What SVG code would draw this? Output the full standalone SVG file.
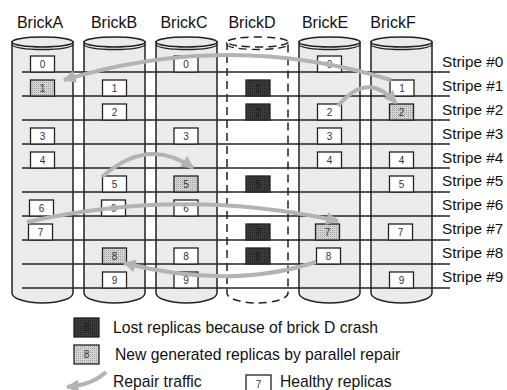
<svg xmlns="http://www.w3.org/2000/svg" width="507" height="390" viewBox="0 0 507 390">
<style>
text{font-family:"Liberation Sans",Arial,sans-serif}
.lbl{font-size:16px;fill:#111}
.sl{font-size:15.3px;fill:#111}
.cyl{fill:#ebebeb;stroke:#222;stroke-width:1.5}
.cyld{fill:#fff;stroke:#222;stroke-width:1.5;stroke-dasharray:8 5}
.rim{fill:none;stroke:#222;stroke-width:1.3}
.rimd{fill:none;stroke:#222;stroke-width:1.3;stroke-dasharray:8 5}
.stripe{stroke:#222;stroke-width:1.5}
.bx{fill:#fff;stroke:#222;stroke-width:1.3}
.nw{fill:url(#pn);stroke:#222;stroke-width:1.3}
.lo{fill:url(#pl);stroke:#222;stroke-width:1.3}
.n{font-size:10px;fill:#333;text-anchor:middle}
.nd{font-size:10px;fill:#1a1a1a;text-anchor:middle}
.arr{fill:none;stroke:#b3b3b3;stroke-width:4;marker-end:url(#ah)}
.leg{font-size:15.7px;fill:#111}
</style>
<defs>
<pattern id="pn" width="2" height="2" patternUnits="userSpaceOnUse"><rect width="2" height="2" fill="#d4d4d4"/><rect width="1" height="1" fill="#a2a2a2"/></pattern>
<pattern id="pl" width="2" height="2" patternUnits="userSpaceOnUse"><rect width="2" height="2" fill="#3c3c3c"/><rect width="1" height="1" fill="#222"/></pattern>
<marker id="ah" viewBox="0 0 10 10" refX="9" refY="5" markerWidth="3.6" markerHeight="3.2" orient="auto" markerUnits="strokeWidth"><path d="M0,0 L10,5 L0,10 Z" fill="#b3b3b3"/></marker>
</defs>
<rect width="507" height="390" fill="#fff"/>

<g id="brickA">
<path class="cyl" d="M12 42 V293 A30.5 10 0 0 0 73 293 V42 Z"/>
<ellipse class="cyl" cx="42.5" cy="42" rx="30.5" ry="5"/>
<path class="rim" d="M12 44.5 A30.5 5 0 0 0 73 44.5"/>
<text class="lbl" x="40" y="28" text-anchor="middle">BrickA</text>
</g>
<g id="brickB">
<path class="cyl" d="M84 42 V293 A30.5 10 0 0 0 145 293 V42 Z"/>
<ellipse class="cyl" cx="114.5" cy="42" rx="30.5" ry="5"/>
<path class="rim" d="M84 44.5 A30.5 5 0 0 0 145 44.5"/>
<text class="lbl" x="114" y="28" text-anchor="middle">BrickB</text>
</g>
<g id="brickC">
<path class="cyl" d="M156 42 V293 A30.5 10 0 0 0 217 293 V42 Z"/>
<ellipse class="cyl" cx="186.5" cy="42" rx="30.5" ry="5"/>
<path class="rim" d="M156 44.5 A30.5 5 0 0 0 217 44.5"/>
<text class="lbl" x="184" y="28" text-anchor="middle">BrickC</text>
</g>
<g id="brickD">
<path class="cyld" d="M227 42 V293 A30.5 10 0 0 0 288 293 V42"/>
<ellipse class="cyld" cx="257.5" cy="42" rx="30.5" ry="5"/>
<path class="rimd" d="M227 44.5 A30.5 5 0 0 0 288 44.5"/>
<text class="lbl" x="252" y="28" text-anchor="middle">BrickD</text>
</g>
<g id="brickE">
<path class="cyl" d="M299 42 V293 A30.5 10 0 0 0 360 293 V42 Z"/>
<ellipse class="cyl" cx="329.5" cy="42" rx="30.5" ry="5"/>
<path class="rim" d="M299 44.5 A30.5 5 0 0 0 360 44.5"/>
<text class="lbl" x="325" y="28" text-anchor="middle">BrickE</text>
</g>
<g id="brickF">
<path class="cyl" d="M371 42 V293 A30.5 10 0 0 0 432 293 V42 Z"/>
<ellipse class="cyl" cx="401.5" cy="42" rx="30.5" ry="5"/>
<path class="rim" d="M371 44.5 A30.5 5 0 0 0 432 44.5"/>
<text class="lbl" x="393" y="28" text-anchor="middle">BrickF</text>
</g>

<g id="stripes">
<line class="stripe" x1="22" y1="72" x2="450" y2="72"/>
<line class="stripe" x1="22" y1="96" x2="450" y2="96"/>
<line class="stripe" x1="22" y1="120" x2="450" y2="120"/>
<line class="stripe" x1="22" y1="144" x2="450" y2="144"/>
<line class="stripe" x1="22" y1="168" x2="450" y2="168"/>
<line class="stripe" x1="22" y1="192" x2="450" y2="192"/>
<line class="stripe" x1="22" y1="216" x2="450" y2="216"/>
<line class="stripe" x1="22" y1="240" x2="450" y2="240"/>
<line class="stripe" x1="22" y1="264" x2="450" y2="264"/>
<line class="stripe" x1="22" y1="288" x2="450" y2="288"/>
<text class="sl" x="442" y="66.5">Stripe #0</text>
<text class="sl" x="442" y="90.5">Stripe #1</text>
<text class="sl" x="442" y="114.5">Stripe #2</text>
<text class="sl" x="442" y="138.5">Stripe #3</text>
<text class="sl" x="442" y="162.5">Stripe #4</text>
<text class="sl" x="442" y="186">Stripe #5</text>
<text class="sl" x="442" y="210">Stripe #6</text>
<text class="sl" x="442" y="234">Stripe #7</text>
<text class="sl" x="442" y="258">Stripe #8</text>
<text class="sl" x="442" y="282">Stripe #9</text>
</g>

<g id="replicasA">
<rect class="bx" x="30.5" y="56" width="24" height="16"/><text class="n" x="42.5" y="67.5">0</text>
<rect class="nw" x="30.5" y="80" width="24" height="16"/><text class="n" x="42.5" y="91.5">1</text>
<rect class="bx" x="30.5" y="128" width="24" height="16"/><text class="n" x="42.5" y="139.5">3</text>
<rect class="bx" x="30.5" y="152" width="24" height="16"/><text class="n" x="42.5" y="163.5">4</text>
<rect class="bx" x="29.5" y="200" width="24" height="16"/><text class="n" x="41.5" y="211.5">6</text>
<rect class="bx" x="28.5" y="224" width="24" height="16"/><text class="n" x="40.5" y="235.5">7</text>
</g>
<g id="replicasB">
<rect class="bx" x="102.5" y="80" width="24" height="16"/><text class="n" x="114.5" y="91.5">1</text>
<rect class="bx" x="102.5" y="104" width="24" height="16"/><text class="n" x="114.5" y="115.5">2</text>
<rect class="bx" x="102.5" y="176" width="24" height="16"/><text class="n" x="114.5" y="187.5">5</text>
<rect class="bx" x="101.5" y="200" width="24" height="16"/><text class="n" x="113.5" y="211.5">6</text>
<rect class="nw" x="102.5" y="248" width="24" height="16"/><text class="n" x="114.5" y="259.5">8</text>
<rect class="bx" x="102.5" y="272" width="24" height="16"/><text class="n" x="114.5" y="283.5">9</text>
</g>
<g id="replicasC">
<rect class="bx" x="174" y="56" width="24" height="16"/><text class="n" x="186" y="67.5">0</text>
<rect class="bx" x="174" y="128" width="24" height="16"/><text class="n" x="186" y="139.5">3</text>
<rect class="nw" x="174" y="176" width="24" height="16"/><text class="n" x="186" y="187.5">5</text>
<rect class="bx" x="174" y="200" width="24" height="16"/><text class="n" x="186" y="211.5">6</text>
<rect class="bx" x="174" y="248" width="24" height="16"/><text class="n" x="186" y="259.5">8</text>
<rect class="bx" x="174" y="272" width="24" height="16"/><text class="n" x="186" y="283.5">9</text>
</g>
<g id="replicasD">
<rect class="lo" x="246" y="80" width="24" height="16"/><text class="nd" x="258" y="91.5">1</text>
<rect class="lo" x="246" y="104" width="24" height="16"/><text class="nd" x="258" y="115.5">2</text>
<rect class="lo" x="246" y="176" width="24" height="16"/><text class="nd" x="258" y="187.5">5</text>
<rect class="lo" x="246" y="224" width="24" height="16"/><text class="nd" x="258" y="235.5">7</text>
<rect class="lo" x="246" y="248" width="24" height="16"/><text class="nd" x="258" y="259.5">8</text>
</g>
<g id="replicasE">
<rect class="bx" x="317.5" y="56" width="24" height="16"/><text class="n" x="329.5" y="67.5">0</text>
<rect class="bx" x="317.5" y="104" width="24" height="16"/><text class="n" x="329.5" y="115.5">2</text>
<rect class="bx" x="317.5" y="128" width="24" height="16"/><text class="n" x="329.5" y="139.5">3</text>
<rect class="bx" x="317.5" y="152" width="24" height="16"/><text class="n" x="329.5" y="163.5">4</text>
<rect class="nw" x="315.5" y="224" width="24" height="16"/><text class="n" x="327.5" y="235.5">7</text>
<rect class="bx" x="316.5" y="248" width="24" height="16"/><text class="n" x="328.5" y="259.5">8</text>
</g>
<g id="replicasF">
<rect class="bx" x="390" y="80" width="24" height="16"/><text class="n" x="402" y="91.5">1</text>
<rect class="nw" x="389.5" y="104" width="24" height="16"/><text class="n" x="401.5" y="115.5">2</text>
<rect class="bx" x="389.5" y="152" width="24" height="16"/><text class="n" x="401.5" y="163.5">4</text>
<rect class="bx" x="389.5" y="176" width="24" height="16"/><text class="n" x="401.5" y="187.5">5</text>
<rect class="bx" x="388.5" y="224" width="24" height="16"/><text class="n" x="400.5" y="235.5">7</text>
<rect class="bx" x="389.5" y="272" width="24" height="16"/><text class="n" x="401.5" y="283.5">9</text>
</g>

<g id="connectors">
<path class="arr" d="M391 80 Q230 30 64 80"/>
<path class="arr" d="M338 106 Q368 70 396 103"/>
<path class="arr" d="M102 177 Q148 136 193 168"/>
<path class="arr" d="M27 222 Q183 187 338 221"/>
<path class="arr" d="M316 262 Q230 290 124 263"/>
</g>

<g id="legend">
<rect class="lo" x="74" y="318" width="25" height="19"/><text class="nd" x="86.5" y="331">8</text>
<text class="leg" x="113" y="333">Lost replicas because of brick D crash</text>
<rect class="nw" x="74" y="345" width="25" height="19"/><text class="n" x="86.5" y="358">8</text>
<text class="leg" x="115" y="360">New generated replicas by parallel repair</text>
<path class="arr" d="M106 372 Q92 385 67 387"/>
<text class="leg" x="113" y="387">Repair traffic</text>
<rect class="bx" x="246" y="375" width="25" height="19"/><text class="n" x="258.5" y="388">7</text>
<text class="leg" x="280" y="387">Healthy replicas</text>
</g>
</svg>
